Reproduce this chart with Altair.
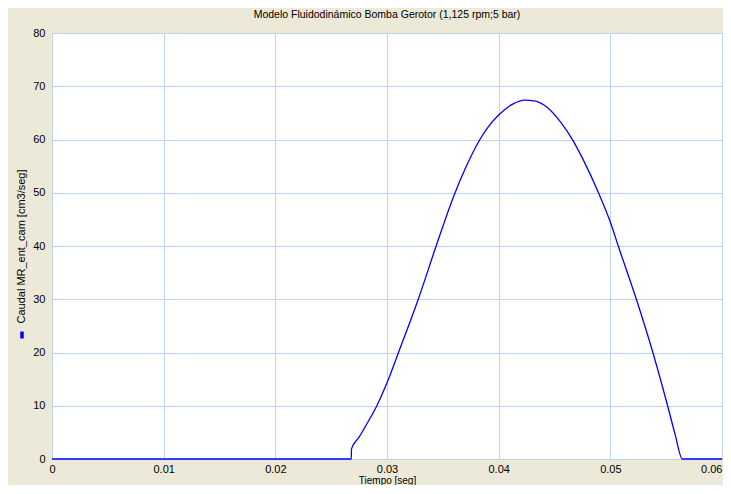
import altair as alt
import pandas as pd

# Tiempo [seg]
tiempo = [0.0, 0.0268, 0.02682, 0.0275, 0.0280, 0.02909, 0.0300, 0.03103, 0.0328,
          0.0344, 0.0360, 0.0370, 0.03832, 0.0390, 0.0400, 0.0413, 0.0423, 0.0433,
          0.0443, 0.0455, 0.04666, 0.0475, 0.04894, 0.0500, 0.05071, 0.05233,
          0.05381, 0.05513, 0.05578, 0.05646, 0.0600]
# Caudal MR_ent_cam [cm3/seg]
caudal = [0.0, 0.0, 1.9, 4.1, 5.9, 10.0, 14.3, 20.0, 30.0,
          40.0, 49.5, 54.5, 60.0, 62.2, 64.6, 66.7, 67.4, 67.2,
          66.1, 63.4, 59.8, 56.5, 50.0, 44.5, 40.0, 30.0,
          20.0, 10.0, 4.8, 0.0, 0.0]
serie = "Caudal MR_ent_cam [cm3/seg]"

df = pd.DataFrame({"t": tiempo, "q": caudal, "s": [serie] * len(tiempo)})

x_ticks = [0, 0.01, 0.02, 0.03, 0.04, 0.05, 0.06]
y_ticks = [0, 10, 20, 30, 40, 50, 60, 70, 80]

line = alt.Chart(df).mark_line(strokeWidth=1.3, interpolate="monotone").encode(
    x=alt.X("t:Q", scale=alt.Scale(domain=[0, 0.06], nice=False),
            axis=alt.Axis(values=x_ticks, title="Tiempo [seg]", format="~g",
                          labelPadding=4, titlePadding=1, titleFontSize=10,
                          ticks=False, domain=False, labelFlush=False,
                          labelAlign=alt.condition("datum.value >= 0.059",
                                                   alt.value("right"),
                                                   alt.value("center")))),
    y=alt.Y("q:Q", scale=alt.Scale(domain=[0, 80], nice=False),
            axis=alt.Axis(values=y_ticks, title=serie, ticks=False, domain=False,
                          labelPadding=7, titlePadding=6)),
    color=alt.Color("s:N", scale=alt.Scale(range=["#0000FF"]),
                    legend=alt.Legend(orient="none", legendX=-35, legendY=297,
                                      title=None, labelExpr="''", labelFontSize=0,
                                      labelOffset=0, padding=0,
                                      symbolType="M-0.5,-1H0.5V1H-0.5Z",
                                      symbolSize=49, symbolStrokeWidth=0,
                                      symbolFillColor="#0000FF")),
)

chart = line.properties(
    width=670,
    height=426,
    autosize=alt.AutoSizeParams(type="none"),
    padding={"left": 44, "top": 25, "right": 1, "bottom": 26},
    background="#ECE9D8",
    title=alt.TitleParams("Modelo Fluidodinámico Bomba Gerotor (1,125 rpm;5 bar)",
                          fontSize=10.5, fontWeight="normal", font="Liberation Sans",
                          color="#000000", anchor="middle", offset=7),
).configure_view(
    fill="white", stroke="#8a8a8a", strokeWidth=1
).configure_axis(
    labelFont="Liberation Sans", labelFontSize=11, labelColor="#000000",
    titleFont="Liberation Sans", titleFontSize=11, titleFontWeight="normal",
    titleColor="#000000", gridColor="#BCD3EE", gridOpacity=1, gridWidth=1
)

chart.save("out.html", embed_options={"renderer": "svg", "actions": False})
